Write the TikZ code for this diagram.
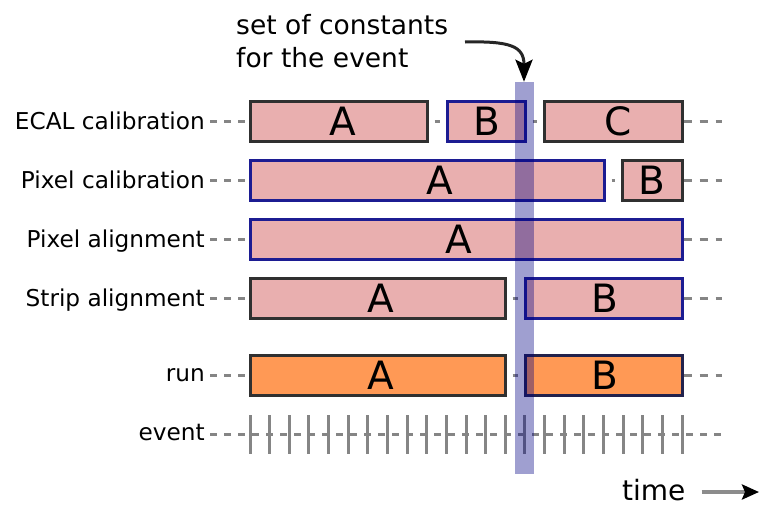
\documentclass[tikz,border=0pt]{standalone}
\usepackage{fontspec}
\setmainfont{DejaVu Sans}
\usetikzlibrary{arrows.meta}

\definecolor{boxfill}{HTML}{E9AFAF}
\definecolor{runfill}{HTML}{FF9955}
\definecolor{edgedark}{HTML}{303030}
\definecolor{edgeblue}{HTML}{1C1C92}
\definecolor{edgenavy}{HTML}{22224C}
\definecolor{bandcol}{HTML}{000082}
\definecolor{guide}{HTML}{858585}

\pgfdeclarelayer{under}
\pgfsetlayers{under,main}

% one validity interval: name, x from, x to, row y, style, letter, letter shift
\newcommand\ivl[7]{%
  \node[#5, minimum width={(#3)-(#2)},
        label={[letter, xshift=#7pt]center:#6}] (#1) at ({(#2+#3)/2},#4) {};}

\begin{document}
\begin{tikzpicture}[x=1pt,y=-1pt,
  rowlabel/.style={anchor=base east, inner sep=0pt, font=\fontsize{23.2}{27}\selectfont},
  letter/.style={inner sep=0pt, font=\fontsize{39}{40}\selectfont},
  interval/.style={draw=edgedark, line width=3pt, fill=boxfill,
                   minimum height=40pt, inner sep=0pt},
  newer/.style={interval, draw=edgeblue},
  runbox/.style={interval, fill=runfill},
  runnew/.style={runbox, draw=edgenavy},
  lead/.style={draw=guide, line width=3pt, dash pattern=on 7pt off 7pt, shorten <=5pt},
  trail/.style={draw=guide, line width=3pt, dash pattern=on 8pt off 8pt},
  gapline/.style={draw=guide, line width=3pt, shorten <=6pt, shorten >=6pt},
  tickmark/.style={draw=guide, line width=3pt},
  bandbox/.style={fill=bandcol, fill opacity=0.375, inner sep=0pt,
                  minimum width=19pt, minimum height=392pt}]

\useasboundingbox (0,0) rectangle (760,506);

% row labels
\node[rowlabel] (lecal)  at (205,129) {ECAL calibration};
\node[rowlabel] (lpcal)  at (205,188) {Pixel calibration};
\node[rowlabel] (lpali)  at (205,247) {Pixel alignment};
\node[rowlabel] (lstrip) at (205,306) {Strip alignment};
\node[rowlabel] (lrun)   at (205,381) {run};
\node[rowlabel] (levent) at (205,440) {event};

% intervals of validity
\ivl{ea}{250}{427}{121}{interval}{A}{4}
\ivl{eb}{447}{525}{121}{newer}{B}{1}
\ivl{ec}{544}{682}{121}{interval}{C}{5}
\ivl{pa}{250}{604}{180}{newer}{A}{13}
\ivl{pb}{622}{682}{180}{interval}{B}{0}
\ivl{aa}{250}{682}{239}{newer}{A}{-7}
\ivl{sa}{250}{505}{298}{interval}{A}{3}
\ivl{sb}{525}{682}{298}{newer}{B}{1}
\ivl{ra}{250}{505}{375}{runbox}{A}{3}
\ivl{rb}{525}{682}{375}{runnew}{B}{1}

% ends of the time lines
\coordinate (ecalend)  at (722,121);
\coordinate (pcalend)  at (722,180);
\coordinate (paliend)  at (722,239);
\coordinate (stripend) at (722,298);
\coordinate (runend)   at (722,375);
\coordinate (eventend) at (722,434);

\begin{pgfonlayer}{under}
  \draw[lead] (lecal.east |- ea.west) -- (ea.west);
  \draw[gapline] (ea.east) -- (eb.west);
  \draw[gapline] (eb.east) -- (ec.west);
  \draw[trail] (ec.east) -- (ecalend);

  \draw[lead] (lpcal.east |- pa.west) -- (pa.west);
  \draw[gapline] (pa.east) -- (pb.west);
  \draw[trail] (pb.east) -- (pcalend);

  \draw[lead] (lpali.east |- aa.west) -- (aa.west);
  \draw[trail] (aa.east) -- (paliend);

  \draw[lead] (lstrip.east |- sa.west) -- (sa.west);
  \draw[gapline] (sa.east) -- (sb.west);
  \draw[trail] (sb.east) -- (stripend);

  \draw[lead] (lrun.east |- ra.west) -- (ra.west);
  \draw[gapline] (ra.east) -- (rb.west);
  \draw[trail] (rb.east) -- (runend);

  \draw[lead] (levent.east |- eventend) -- (eventend);
\end{pgfonlayer}

% individual events
\foreach \i in {0,...,22}
  \draw[tickmark] ({250+\i*432/22},415) -- ++(0,39);

% the constants picked for one event
\node[bandbox] (band) at (524,278) {};

\node[anchor=base west, align=left, inner sep=0pt,
      font=\fontsize{26.5}{33}\selectfont] (note) at (236,67)
      {set of constants\\for the event};
\coordinate (notearrow) at (465,42);
\draw[draw=black!85, line width=3pt, -{Stealth[black, length=22pt, width=17pt, inset=4pt]}]
  (notearrow) .. controls (510,41) and (524,46) .. (band.north);

% time direction
\node[anchor=base west, inner sep=0pt, font=\fontsize{28}{30}\selectfont] (time) at (622,500) {time};
\coordinate (timeend) at (759,492);
\draw[draw=black!45, line width=4pt, -{Stealth[black, length=17pt, width=15pt, inset=3pt]}]
  ([xshift=16pt]time.east |- timeend) -- (timeend);
\end{tikzpicture}
\end{document}
